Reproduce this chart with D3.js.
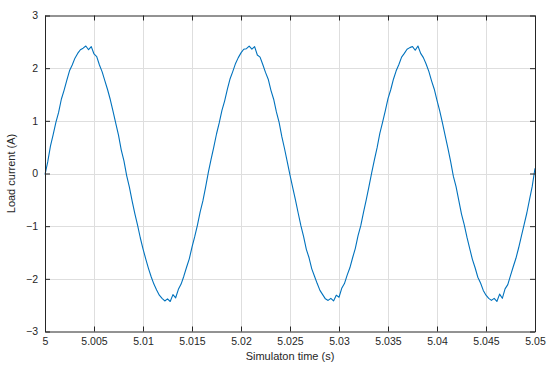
<!DOCTYPE html>
<html>
<head>
<meta charset="utf-8">
<script src="https://cdn.jsdelivr.net/npm/d3@7"></script>
<style>
  body { margin: 0; background: #fff; }
  text { font-family: "Liberation Sans", Arial, sans-serif; fill: #262626; }
</style>
</head>
<body>
<div class="chart"></div>
<script>
// time span of the record (s)
const tStart = 5;
const tEnd = 5.05;

// load current samples (A), evenly spaced over the span
const current = [
  -0.02, 0.22, 0.52, 0.74, 0.97, 1.16, 1.41, 1.58, 1.77, 1.95,
  2.06, 2.19, 2.28, 2.35, 2.38, 2.42, 2.35, 2.41, 2.27, 2.22,
  2.06, 1.93, 1.76, 1.59, 1.40, 1.18, 0.95, 0.73, 0.45, 0.24,
  -0.04, -0.26, -0.52, -0.76, -0.98, -1.22, -1.43, -1.62, -1.80, -1.96,
  -2.10, -2.21, -2.31, -2.37, -2.42, -2.38, -2.43, -2.30, -2.36, -2.20,
  -2.10, -1.95, -1.78, -1.62, -1.40, -1.20, -0.98, -0.73, -0.52, -0.26,
  0.02, 0.27, 0.50, 0.75, 0.96, 1.20, 1.38, 1.60, 1.80, 1.94,
  2.09, 2.20, 2.29, 2.36, 2.37, 2.42, 2.36, 2.41, 2.25, 2.21,
  2.07, 1.92, 1.79, 1.58, 1.41, 1.17, 0.97, 0.70, 0.47, 0.22,
  -0.03, -0.27, -0.50, -0.75, -0.99, -1.20, -1.44, -1.60, -1.81, -1.95,
  -2.09, -2.22, -2.30, -2.38, -2.41, -2.37, -2.42, -2.31, -2.35, -2.18,
  -2.09, -1.93, -1.79, -1.60, -1.42, -1.18, -0.99, -0.74, -0.50, -0.25,
  0.01, 0.26, 0.49, 0.76, 0.97, 1.19, 1.42, 1.59, 1.79, 1.95,
  2.07, 2.21, 2.28, 2.36, 2.39, 2.41, 2.34, 2.42, 2.28, 2.20,
  2.08, 1.94, 1.76, 1.60, 1.39, 1.19, 0.96, 0.72, 0.48, 0.23,
  -0.05, -0.25, -0.51, -0.77, -0.97, -1.21, -1.42, -1.63, -1.79, -1.97,
  -2.08, -2.22, -2.31, -2.37, -2.41, -2.37, -2.43, -2.29, -2.37, -2.19,
  -2.11, -1.94, -1.77, -1.61, -1.41, -1.19, -0.97, -0.75, -0.49, -0.24,
  0.10
];

// tick labels
const xTicks = [5, 5.005, 5.01, 5.015, 5.02, 5.025, 5.03, 5.035, 5.04, 5.045, 5.05];
const yTicks = [-3, -2, -1, 0, 1, 2, 3];

const width = 550;
const height = 372;
const margin = {top: 15.5, right: 15, bottom: 40.5, left: 45};

const svg = d3.select(".chart")
  .append("svg")
  .attr("width", width)
  .attr("height", height);

const x = d3.scaleLinear()
  .domain([tStart, tEnd])
  .range([margin.left, width - margin.right]);

const y = d3.scaleLinear()
  .domain([-3, 3])
  .range([height - margin.bottom, margin.top]);

const step = (tEnd - tStart) / (current.length - 1);
const points = current.map((v, i) => ({t: tStart + i * step, v: v}));

// grid
svg.append("g")
  .attr("stroke", "#dedede")
  .attr("stroke-width", 1)
  .selectAll("line")
  .data(xTicks.slice(1, -1))
  .join("line")
  .attr("x1", d => Math.round(x(d)) + 0.5)
  .attr("x2", d => Math.round(x(d)) + 0.5)
  .attr("y1", y(3))
  .attr("y2", y(-3));

svg.append("g")
  .attr("stroke", "#dedede")
  .attr("stroke-width", 1)
  .selectAll("line")
  .data(yTicks.slice(1, -1))
  .join("line")
  .attr("x1", x(tStart))
  .attr("x2", x(tEnd))
  .attr("y1", d => Math.round(y(d)) + 0.5)
  .attr("y2", d => Math.round(y(d)) + 0.5);

// the current trace
const line = d3.line()
  .x(d => x(d.t))
  .y(d => y(d.v));

svg.append("path")
  .datum(points)
  .attr("fill", "none")
  .attr("stroke", "#0072bd")
  .attr("stroke-width", 1.1)
  .attr("stroke-linejoin", "round")
  .attr("d", line);

// axes, ticks inside like the original, box on all four sides
function styleAxis(g) {
  g.select(".domain").attr("stroke", "#262626");
  g.selectAll(".tick line").attr("stroke", "#262626");
  g.selectAll(".tick text").attr("fill", "#262626").style("font-size", "10.5px")
    .style("font-family", "'Liberation Sans', Arial, sans-serif");
}

svg.append("g")
  .attr("transform", `translate(0,${y(-3)})`)
  .call(d3.axisBottom(x).tickValues(xTicks).tickFormat(d => d3.format("")(+d.toFixed(3)))
    .tickSizeInner(-5).tickSizeOuter(0).tickPadding(6))
  .call(styleAxis);

svg.append("g")
  .attr("transform", `translate(0,${y(3)})`)
  .call(d3.axisTop(x).tickValues(xTicks).tickFormat("").tickSizeInner(-5).tickSizeOuter(0))
  .call(styleAxis);

svg.append("g")
  .attr("transform", `translate(${x(tStart)},0)`)
  .call(d3.axisLeft(y).tickValues(yTicks).tickFormat(d3.format("d"))
    .tickSizeInner(-5).tickSizeOuter(0).tickPadding(7))
  .call(styleAxis);

svg.append("g")
  .attr("transform", `translate(${x(tEnd)},0)`)
  .call(d3.axisRight(y).tickValues(yTicks).tickFormat("").tickSizeInner(-5).tickSizeOuter(0))
  .call(styleAxis);

// axis titles
svg.append("text")
  .attr("x", (x(tStart) + x(tEnd)) / 2)
  .attr("y", 360)
  .attr("text-anchor", "middle")
  .style("font-size", "11px")
  .text("Simulaton time (s)");

svg.append("text")
  .attr("transform", `translate(15,${(y(3) + y(-3)) / 2}) rotate(-90)`)
  .attr("text-anchor", "middle")
  .style("font-size", "11px")
  .text("Load current (A)");
</script>
</body>
</html>
